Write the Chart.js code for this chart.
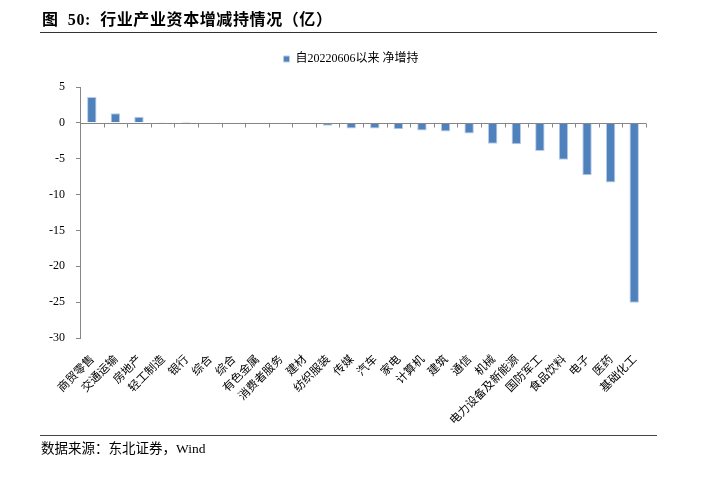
<!DOCTYPE html>
<html>
<head>
<meta charset="utf-8">
<script src="https://cdn.jsdelivr.net/npm/chart.js@4"></script>
<style>
  html, body { margin: 0; padding: 0; background: #fff; }
  #page { position: relative; width: 711px; height: 485px; overflow: hidden; background: #fff; }
  #chartBox { position: absolute; left: 0; top: 0; width: 711px; height: 485px; }
  .title { position: absolute; left: 42px; top: 9px; font-family: "Liberation Serif", "Noto Sans CJK SC", serif; font-weight: bold; font-size: 16px; letter-spacing: 0.6px; color: #000; white-space: pre; line-height: 22px; }
  .rule { position: absolute; left: 40px; width: 617px; height: 1.5px; background: #333; }
  .footer { position: absolute; left: 41px; top: 440px; font-family: "Liberation Serif", "Noto Sans CJK SC", serif; font-size: 13.5px; color: #000; white-space: pre; line-height: 18px; }
</style>
</head>
<body>
<div id="page">
  <div id="chartBox"><canvas id="c"></canvas></div>
  <div class="title">图  50:  行业产业资本增减持情况（亿）</div>
  <div class="rule" style="top:31.5px"></div>
  <div class="rule" style="top:434.5px; background:#444"></div>
  <div class="footer">数据来源：东北证券，Wind</div>
</div>
<script>
const categories = ['商贸零售','交通运输','房地产','轻工制造','银行','综合','综合','有色金属','消费者服务','建材','纺织服装','传媒','汽车','家电','计算机','建筑','通信','机械','电力设备及新能源','国防军工','食品饮料','电子','医药','基础化工'];
const netIncrease = [3.6, 1.35, 0.85, 0.05, 0.03, 0, 0, -0.02, -0.1, -0.1, -0.4, -0.8, -0.8, -0.88, -1.07, -1.22, -1.5, -2.92, -2.97, -3.92, -5.15, -7.3, -8.3, -25.1];
const seriesLabel = '自20220606以来 净增持';
const yTickValues = [-30, -25, -20, -15, -10, -5, 0, 5];

const AXIS = '#868686';
const serif = '"Liberation Serif", "Noto Sans CJK SC", serif';

const legendSpacer = {
  id: 'legendSpacer',
  beforeLayout(chart) {
    const lg = chart.legend;
    if (lg && !lg._spaced) {
      const orig = lg.fit;
      lg.fit = function () { orig.call(this); this.height += 12; };
      lg._spaced = true;
    }
  }
};

const zeroAxis = {
  id: 'zeroAxis',
  afterDatasetsDraw(chart) {
    const x = chart.scales.x, y = chart.scales.y, ctx = chart.ctx;
    const y0 = Math.round(y.getPixelForValue(0)) + 0.5;
    const step = x.getPixelForValue(1) - x.getPixelForValue(0);
    ctx.save();
    ctx.strokeStyle = AXIS;
    ctx.lineWidth = 1;
    ctx.beginPath();
    ctx.moveTo(x.left, y0);
    ctx.lineTo(x.right, y0);
    for (let i = 0; i <= categories.length; i++) {
      const px = Math.round(x.getPixelForValue(i) - step / 2) + 0.5;
      ctx.moveTo(px, y0);
      ctx.lineTo(px, y0 + 4);
    }
    ctx.stroke();
    ctx.restore();
  }
};

new Chart(document.getElementById('c'), {
  type: 'bar',
  data: {
    labels: categories,
    datasets: [{
      label: seriesLabel,
      data: netIncrease,
      backgroundColor: '#4F81BD',
      borderColor: '#B9CDE5',
      borderWidth: 1,
      barPercentage: 0.4,
      categoryPercentage: 1.0
    }]
  },
  options: {
    responsive: true,
    maintainAspectRatio: false,
    animation: false,
    layout: { padding: { top: 43, left: 0, right: 9, bottom: 0 } },
    plugins: {
      legend: {
        display: true,
        position: 'top',
        labels: {
          boxWidth: 6,
          boxHeight: 6,
          padding: 10,
          color: '#000',
          font: { family: serif, size: 12 }
        }
      },
      tooltip: { enabled: false }
    },
    scales: {
      x: {
        grid: { display: false },
        border: { display: false },
        ticks: {
          autoSkip: false,
          maxRotation: 45,
          minRotation: 45,
          padding: 6,
          color: '#000',
          font: { family: '"Noto Sans CJK SC", sans-serif', size: 11.5 }
        },
        afterFit(scale) { scale.height = 147; }
      },
      y: {
        min: -30,
        max: 5,
        afterBuildTicks(scale) { scale.ticks = yTickValues.map(v => ({ value: v })); },
        grid: { drawOnChartArea: false, color: AXIS, tickLength: 4 },
        border: { display: true, color: AXIS },
        ticks: {
          padding: 11,
          color: '#000',
          font: { family: serif, size: 12 }
        },
        afterFit(scale) { scale.width = 80; }
      },
      y2: {
        position: 'right',
        display: true,
        grid: { display: false },
        border: { display: false },
        ticks: { display: false },
        afterFit(scale) { scale.width = 56; }
      }
    }
  },
  plugins: [legendSpacer, zeroAxis]
});
</script>
</body>
</html>
